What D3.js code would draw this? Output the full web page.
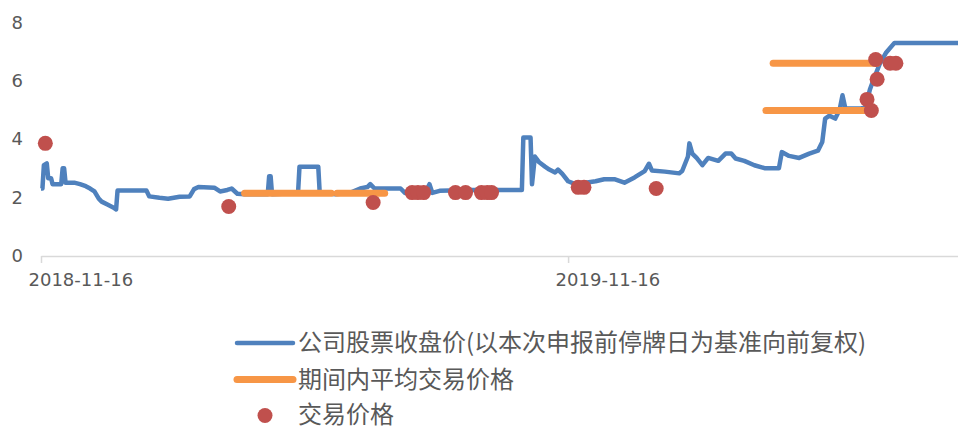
<!DOCTYPE html>
<html>
<head>
<meta charset="utf-8">
<script src="https://cdn.jsdelivr.net/npm/d3@7"></script>
<style>
  body { margin: 0; background: #fff; }
  svg { display: block; }
</style>
</head>
<body>
<script>
// closing price (forward adjusted)
var closeDates = ["2018-11-16","2018-11-17","2018-11-18","2018-11-20","2018-11-21","2018-11-23","2018-11-24","2018-11-30",
  "2018-12-01","2018-12-02","2018-12-03","2018-12-09","2018-12-13","2018-12-17","2018-12-20","2018-12-23","2018-12-26","2018-12-28",
  "2019-01-01","2019-01-05","2019-01-07","2019-01-08","2019-01-28","2019-01-30","2019-02-06","2019-02-12","2019-02-20","2019-02-27",
  "2019-03-02","2019-03-05","2019-03-16","2019-03-20","2019-03-25","2019-03-28","2019-04-01","2019-04-06","2019-04-22","2019-04-23",
  "2019-04-24","2019-04-25","2019-05-13","2019-05-14","2019-05-27","2019-05-28","2019-06-08","2019-06-18","2019-06-25","2019-06-30",
  "2019-07-02","2019-07-05","2019-07-12","2019-07-23","2019-07-26","2019-08-09","2019-08-12","2019-08-14","2019-08-19","2019-09-09",
  "2019-09-30","2019-10-15","2019-10-16","2019-10-21","2019-10-22","2019-10-24","2019-10-27","2019-10-31","2019-11-03","2019-11-07",
  "2019-11-09","2019-11-12","2019-11-16","2019-11-21","2019-11-28","2019-12-05","2019-12-11","2019-12-18","2019-12-25","2020-01-01",
  "2020-01-08","2020-01-11","2020-01-13","2020-01-22","2020-02-01","2020-02-03","2020-02-07","2020-02-08","2020-02-10","2020-02-13",
  "2020-02-17","2020-02-21","2020-02-28","2020-03-04","2020-03-08","2020-03-11","2020-03-17","2020-03-24","2020-03-31","2020-04-10",
  "2020-04-12","2020-04-17","2020-04-24","2020-05-01","2020-05-07","2020-05-10","2020-05-12","2020-05-15","2020-05-19","2020-05-22",
  "2020-05-24","2020-05-26","2020-05-30","2020-06-06","2020-06-09","2020-06-12","2020-06-15","2020-06-19","2020-06-23","2020-06-29",
  "2020-08-12"];
var closeValues = [2.30,2.30,3.10,3.16,2.65,2.65,2.45,2.45,
  3.0,3.0,2.5,2.5,2.45,2.38,2.3,2.2,1.95,1.85,
  1.75,1.65,1.58,2.23,2.23,2.03,1.98,1.95,2.02,2.03,
  2.28,2.35,2.33,2.2,2.25,2.3,2.12,2.1,2.1,2.72,
  2.72,2.1,2.15,3.05,3.05,2.15,2.1,2.15,2.3,2.35,
  2.45,2.3,2.3,2.3,2.15,2.15,2.45,2.15,2.22,2.25,
  2.25,2.25,4.05,4.05,2.45,3.4,3.2,3.05,2.95,2.85,
  2.95,2.8,2.55,2.45,2.5,2.55,2.62,2.62,2.5,2.68,
  2.9,3.15,2.92,2.88,2.82,2.9,3.4,3.85,3.5,3.35,
  3.1,3.35,3.25,3.5,3.5,3.33,3.25,3.1,3.0,3.0,
  3.55,3.42,3.35,3.5,3.6,3.9,4.7,4.8,4.7,5.0,
  5.5,5.05,5.05,5.05,5.1,5.7,6.1,6.6,6.95,7.3,
  7.3];

// average trade price over each period
var avgStart = ["2019-04-06","2019-06-09","2020-04-01","2020-04-06"];
var avgEnd   = ["2019-06-05","2019-07-12","2020-06-10","2020-06-17"];
var avgValue = [2.14,2.14,4.98,6.6];

// individual trades
var tradeDates = ["2018-11-19","2019-03-26","2019-07-04","2019-07-31","2019-08-04","2019-08-08","2019-08-30","2019-09-06",
  "2019-09-17","2019-09-21","2019-09-24","2019-11-23","2019-11-27","2020-01-16","2020-06-10","2020-06-13",
  "2020-06-16","2020-06-17","2020-06-26","2020-06-30"];
var tradeValues = [3.85,1.68,1.82,2.16,2.16,2.16,2.16,2.16,
  2.16,2.16,2.16,2.34,2.34,2.3,5.36,4.98,
  6.73,6.05,6.6,6.6];

var xTicks = ["2018-11-16","2019-11-16"];
var yTicks = [0,2,4,6,8];
var legendLabels = ["公司股票收盘价(以本次申报前停牌日为基准向前复权)","期间内平均交易价格","交易价格"];

var blue = "#4f81bd", orange = "#f79646", red = "#c0504d", textCol = "#595959";

var width = 958, height = 430;
var parse = d3.timeParse("%Y-%m-%d");

var x = d3.scaleTime()
  .domain([parse("2018-11-16"), parse("2020-08-12")])
  .range([41, 958]);
var y = d3.scaleLinear().domain([0, 8]).range([255.5, 22.5]);

var svg = d3.select("body").append("svg")
  .attr("width", width)
  .attr("height", height);

// y labels (no axis line, no gridlines)
svg.append("g").selectAll("text")
  .data(yTicks)
  .enter().append("text")
  .attr("x", 23)
  .attr("y", d => y(d))
  .attr("dy", "0.36em")
  .attr("text-anchor", "end")
  .attr("fill", textCol)
  .style("font", "18px 'DejaVu Sans'")
  .text(d => d);

// x axis
var xAxis = d3.axisBottom(x)
  .tickValues(xTicks.map(parse))
  .tickFormat(d3.timeFormat("%Y-%m-%d"))
  .tickSizeInner(7)
  .tickSizeOuter(0);

var gx = svg.append("g")
  .attr("transform", "translate(0,256)")
  .call(xAxis);
gx.select(".domain").attr("stroke", "#d9d9d9").attr("stroke-width", 1.5);
gx.selectAll(".tick line").attr("stroke", "#d9d9d9").attr("stroke-width", 1.5);
gx.selectAll(".tick text")
  .attr("text-anchor", "start")
  .attr("dx", -13)
  .attr("y", 24)
  .attr("dy", "0.36em")
  .attr("fill", textCol)
  .style("font", "18px 'DejaVu Sans'");

// closing price line
var closeData = closeDates.map((d, i) => ({date: parse(d), value: closeValues[i]}));
var line = d3.line()
  .x(d => x(d.date))
  .y(d => y(d.value));

svg.append("path")
  .datum(closeData)
  .attr("fill", "none")
  .attr("stroke", blue)
  .attr("stroke-width", 4.5)
  .attr("stroke-linejoin", "round")
  .attr("d", line);

// average price segments
svg.append("g").selectAll("line")
  .data(avgValue)
  .enter().append("line")
  .attr("x1", (d, i) => x(parse(avgStart[i])))
  .attr("x2", (d, i) => x(parse(avgEnd[i])))
  .attr("y1", d => y(d))
  .attr("y2", d => y(d))
  .attr("stroke", orange)
  .attr("stroke-width", 7)
  .attr("stroke-linecap", "round");

// trade dots
svg.append("g").selectAll("circle")
  .data(tradeValues)
  .enter().append("circle")
  .attr("cx", (d, i) => x(parse(tradeDates[i])))
  .attr("cy", d => y(d))
  .attr("r", 7.5)
  .attr("fill", red);

// legend
var legend = svg.append("g");
var rows = [343, 379.5, 414.5];
legend.append("line")
  .attr("x1", 237).attr("x2", 293).attr("y1", rows[0]).attr("y2", rows[0])
  .attr("stroke", blue).attr("stroke-width", 4.5).attr("stroke-linecap", "round");
legend.append("line")
  .attr("x1", 237).attr("x2", 293).attr("y1", rows[1]).attr("y2", rows[1])
  .attr("stroke", orange).attr("stroke-width", 7).attr("stroke-linecap", "round");
legend.append("circle")
  .attr("cx", 265).attr("cy", rows[2] + 1).attr("r", 7.5).attr("fill", red);

legend.selectAll("text")
  .data(legendLabels)
  .enter().append("text")
  .attr("x", 298)
  .attr("y", (d, i) => rows[i])
  .attr("dy", "0.34em")
  .attr("fill", textCol)
  .style("font", "24px 'Noto Sans CJK SC'")
  .text(d => d);
</script>
</body>
</html>
